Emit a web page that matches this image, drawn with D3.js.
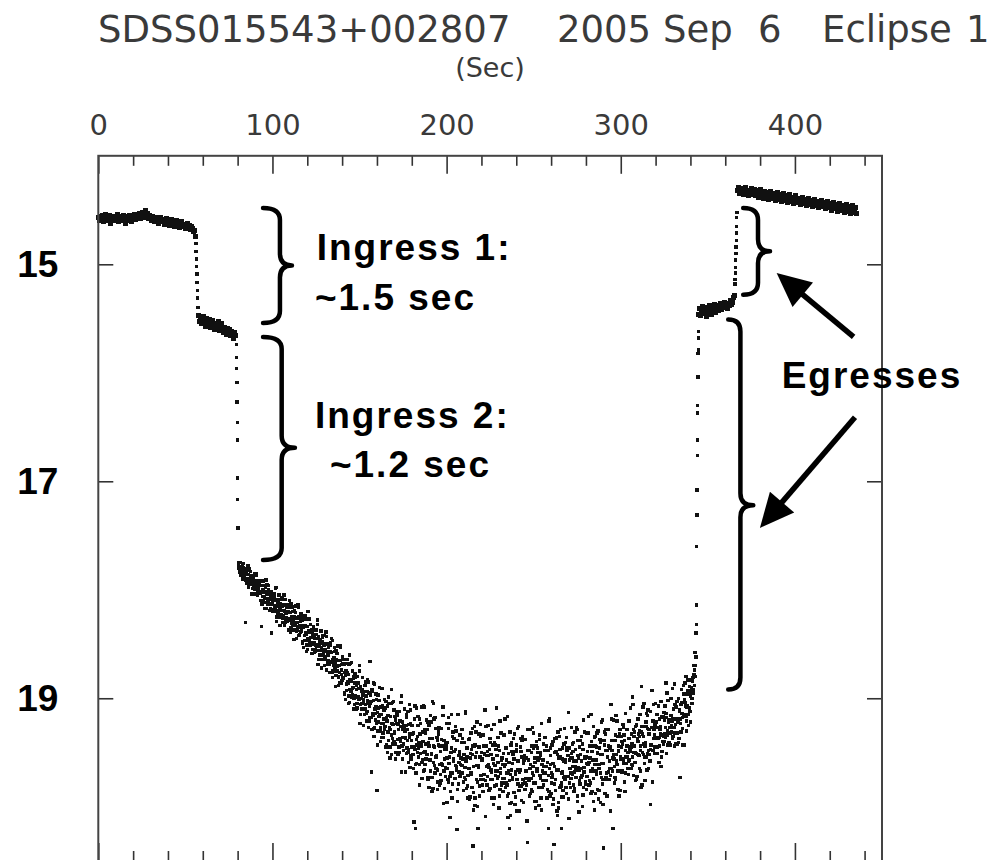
<!DOCTYPE html>
<html>
<head>
<meta charset="utf-8">
<script src="https://cdn.jsdelivr.net/npm/d3@7"></script>
<style>
  body { margin: 0; background: #fff; }
</style>
</head>
<body>
<div id="chart"></div>
<script>
// axis set-up
const xDomain = [0, 450];
const yDomain = [14, 20.5];
const xMajorTicks = [0, 100, 200, 300, 400];
const xMinorTicks = [20, 40, 60, 80, 120, 140, 160, 180, 220, 240, 260, 280, 320, 340, 360, 380, 420, 440];
const yTicks = [15, 17, 19];

// light curve, [sec, mag]
const plateauBefore = [
  [0,14.57],[0.6,14.60],[1.2,14.56],[1.8,14.59],[2.4,14.55],[3.0,14.61],[3.6,14.58],[4.2,14.54],[4.8,14.60],[5.4,14.57],
  [6.0,14.59],[6.6,14.55],[7.2,14.62],[7.8,14.58],[8.4,14.56],[9.0,14.60],[9.6,14.57],[10.2,14.59],[10.8,14.54],[11.4,14.61],
  [12.0,14.58],[12.6,14.56],[13.2,14.60],[13.8,14.57],[14.4,14.55],[15.0,14.59],[15.6,14.62],[16.2,14.56],[16.8,14.58],[17.4,14.60],
  [18.0,14.55],[18.6,14.58],[19.2,14.61],[19.8,14.56],[20.4,14.57],[21.0,14.54],[21.6,14.59],[22.2,14.55],[22.8,14.57],[23.4,14.53],
  [24.0,14.58],[24.6,14.55],[25.2,14.52],[25.8,14.57],[26.4,14.54],[27.0,14.50],[27.6,14.56],[28.2,14.53],[28.8,14.58],[29.4,14.55],
  [30.0,14.57],[30.6,14.60],[31.2,14.56],[31.8,14.59],[32.4,14.61],[33.0,14.57],[33.6,14.60],[34.2,14.58],[34.8,14.62],[35.4,14.59],
  [36.0,14.57],[36.6,14.61],[37.2,14.59],[37.8,14.63],[38.4,14.60],[39.0,14.58],[39.6,14.62],[40.2,14.60],[40.8,14.64],[41.4,14.61],
  [42.0,14.59],[42.6,14.63],[43.2,14.60],[43.8,14.65],[44.4,14.62],[45.0,14.60],[45.6,14.64],[46.2,14.62],[46.8,14.66],[47.4,14.63],
  [48.0,14.61],[48.6,14.65],[49.2,14.63],[49.8,14.67],[50.4,14.64],[51.0,14.62],[51.6,14.66],[52.2,14.64],[52.8,14.68],[53.4,14.65],
  [54.0,14.67],[54.6,14.70],[55.2,14.69],[55.8,14.74]
];
const ingressOne = [
  [56.0,14.81],[56.15,14.88],[56.3,14.95],[56.45,15.02],[56.6,15.09],[56.75,15.17],[56.9,15.24],[57.05,15.31],[57.2,15.40]
];
const plateauMidOne = [
  [57.4,15.47],[58.0,15.53],[58.6,15.49],[59.2,15.55],[59.8,15.51],[60.4,15.48],[61.0,15.54],[61.6,15.57],[62.2,15.50],[62.8,15.53],
  [63.4,15.56],[64.0,15.51],[64.6,15.58],[65.2,15.54],[65.8,15.52],[66.4,15.57],[67.0,15.60],[67.6,15.55],[68.2,15.58],[68.8,15.53],
  [69.4,15.61],[70.0,15.57],[70.6,15.55],[71.2,15.60],[71.8,15.63],[72.4,15.58],[73.0,15.61],[73.6,15.65],[74.2,15.59],[74.8,15.63],
  [75.4,15.60],[76.0,15.66],[76.6,15.62],[77.2,15.64],[77.8,15.68],[78.4,15.63],[79.0,15.66]
];
const ingressTwo = [
  [79.3,15.74],[79.4,15.86],[79.5,15.96],[79.6,16.09],[79.7,16.27],[79.8,16.46],[79.9,16.62],[80.0,16.97],[80.1,17.17],[80.2,17.43]
];
const eclipseFloor = [
  [80.4,17.80],[80.8,17.75],[81.2,17.83],[81.6,17.79],[82.0,17.87],[82.4,17.79],[82.8,17.83],[83.2,17.76],[83.6,17.88],[84.0,17.87],
  [84.4,18.30],[84.8,17.91],[85.2,17.81],[85.6,17.90],[86.0,17.86],[86.4,17.98],[86.8,17.90],[87.2,17.94],[87.6,17.87],[88.0,17.93],
  [88.4,17.99],[88.8,17.91],[89.2,17.95],[89.6,17.85],[90.0,18.00],[90.4,17.95],[90.8,18.04],[91.2,17.93],[91.6,18.00],[92.0,17.95],
  [92.4,17.95],[92.8,18.03],[93.2,18.10],[93.6,18.34],[94.0,17.96],[94.4,18.06],[94.8,18.01],[95.2,18.06],[95.6,18.17],[96.0,17.98],
  [96.4,18.08],[96.8,17.95],[97.2,18.04],[97.6,18.13],[98.0,18.09],[98.4,18.02],[98.8,18.13],[99.2,18.06],[99.6,18.40],[100.0,18.20],
  [100.4,18.10],[100.8,18.20],[101.2,18.07],[101.6,18.16],[102.0,17.98],[102.4,18.19],[102.8,18.15],[103.2,18.22],[103.6,18.12],[104.0,18.14],
  [104.4,18.18],[104.8,18.09],[105.2,18.23],[105.6,18.15],[106.0,18.30],[106.4,18.14],[106.8,18.20],[107.2,18.09],[107.6,18.28],[108.0,18.26],
  [108.4,18.21],[108.8,18.29],[109.2,18.14],[109.6,18.27],[110.0,18.21],[110.4,18.39],[110.8,18.25],[111.2,18.31],[111.6,18.20],[112.0,18.30],
  [112.4,18.37],[112.8,18.25],[113.2,18.30],[113.6,18.15],[114.0,18.37],[114.4,18.30],[114.8,18.42],[115.2,18.25],[115.6,18.35],[116.0,18.29],
  [116.4,18.27],[116.8,18.38],[117.2,18.49],[117.6,18.34],[118.0,18.27],[118.4,18.42],[118.8,18.33],[119.2,18.40],[119.6,18.57],[120.0,18.27],
  [120.4,18.45],[120.8,18.27],[121.2,18.39],[121.6,18.51],[122.0,18.44],[122.4,18.37],[122.8,18.50],[123.2,18.41],[123.6,18.34],[124.0,18.58],
  [124.4,18.45],[124.8,18.57],[125.2,18.41],[125.6,18.52],[126.0,18.28],[126.4,18.56],[126.8,18.52],[127.2,18.60],[127.6,18.47],[128.0,18.49],
  [128.4,18.55],[128.8,18.44],[129.2,18.60],[129.6,18.51],[130.0,18.70],[130.4,18.50],[130.8,18.57],[131.2,18.43],[131.6,18.68],[132.0,18.65],
  [132.4,18.57],[132.8,18.69],[133.2,18.49],[133.6,18.66],[134.0,18.58],[134.4,18.81],[134.8,18.64],[135.2,18.70],[135.6,18.57],[136.0,18.70],
  [136.4,18.79],[136.8,18.64],[137.2,18.71],[137.6,18.52],[138.0,18.80],[138.4,18.70],[138.8,18.86],[139.2,18.65],[139.6,18.78],[140.0,18.69],
  [140.4,18.68],[140.8,18.82],[141.2,18.96],[141.6,18.76],[142.0,18.68],[142.4,18.87],[142.8,18.76],[143.2,18.85],[143.6,19.05],[144.0,18.69],
  [144.4,18.92],[144.8,18.68],[145.2,18.84],[145.6,18.99],[146.0,18.91],[146.4,18.80],[146.8,19.00],[147.2,18.86],[147.6,18.77],[148.0,19.10],
  [148.4,18.92],[148.8,19.09],[149.2,18.86],[149.6,19.01],[150.0,18.70],[150.4,19.06],[150.8,19.00],[151.2,19.10],[151.6,18.93],[152.0,18.97],
  [152.4,19.03],[152.8,18.88],[153.2,19.10],[153.6,18.98],[154.0,19.21],[154.4,18.94],[154.8,19.05],[155.2,18.85],[155.6,19.18],[156.0,18.66],
  [156.4,19.03],[156.8,19.68],[157.2,18.92],[157.6,19.14],[158.0,19.02],[158.4,19.35],[158.8,19.10],[159.2,19.20],[159.6,19.01],[160.0,19.85],
  [160.4,19.30],[160.8,19.09],[161.2,19.17],[161.6,18.90],[162.0,19.27],[162.4,19.15],[162.8,19.36],[163.2,19.07],[163.6,19.23],[164.0,19.11],
  [164.4,19.09],[164.8,19.26],[165.2,19.45],[165.6,19.18],[166.0,19.07],[166.4,19.31],[166.8,19.16],[167.2,19.27],[167.6,19.55],[168.0,19.05],
  [168.4,19.34],[168.8,19.04],[169.2,19.24],[169.6,19.42],[170.0,19.32],[170.4,19.17],[170.8,19.42],[171.2,19.23],[171.6,19.12],[172.0,19.52],
  [172.4,19.29],[172.8,19.50],[173.2,19.21],[173.6,19.40],[174.0,18.98],[174.4,19.44],[174.8,19.36],[175.2,19.48],[175.6,19.27],[176.0,19.30],
  [176.4,19.37],[176.8,19.18],[177.2,19.46],[177.6,19.29],[178.0,19.59],[178.4,19.24],[178.8,19.36],[179.2,19.11],[179.6,19.53],[180.0,19.45],
  [180.4,19.33],[180.8,19.52],[181.2,20.14],[181.6,19.45],[182.0,20.20],[182.4,19.69],[182.8,19.38],[183.2,19.50],[183.6,19.25],[184.0,19.46],
  [184.4,19.61],[184.8,19.33],[185.2,19.44],[185.6,19.08],[186.0,19.57],[186.4,19.40],[186.8,19.67],[187.2,19.29],[187.6,19.49],[188.0,19.32],
  [188.4,19.29],[188.8,19.52],[189.2,19.75],[189.6,19.41],[190.0,19.25],[190.4,19.57],[190.8,19.37],[191.2,19.51],[191.6,19.86],[192.0,19.03],
  [192.4,19.59],[192.8,19.19],[193.2,19.45],[193.6,19.69],[194.0,19.54],[194.4,19.36],[194.8,19.66],[195.2,19.43],[195.6,19.27],[196.0,19.80],
  [196.4,19.49],[196.8,19.76],[197.2,19.38],[197.6,19.62],[198.0,19.08],[198.4,19.67],[198.8,19.56],[199.2,19.72],[199.6,19.44],[200.0,19.47],
  [200.4,19.65],[200.8,19.75],[201.2,19.18],[201.6,19.54],[202.0,20.10],[202.4,19.86],[202.8,19.46],[203.2,19.69],[203.6,19.31],[204.0,19.58],
  [204.4,19.49],[204.8,19.74],[205.2,19.26],[205.6,19.63],[206.0,20.21],[206.4,19.95],[206.8,19.53],[207.2,19.68],[207.6,19.34],[208.0,19.61],
  [208.4,19.41],[208.8,19.62],[209.2,19.37],[209.6,19.85],[210.0,19.52],[210.4,19.73],[210.8,19.14],[211.2,19.58],[211.6,19.46],[212.0,19.81],
  [212.4,19.38],[212.8,19.65],[213.2,19.93],[213.6,19.51],[214.0,19.32],[214.4,19.70],[214.8,19.44],[215.2,20.36],[215.6,20.03],[216.0,19.26],
  [216.4,19.92],[216.8,19.31],[217.2,19.50],[217.6,19.77],[218.0,20.20],[218.4,19.64],[218.8,19.81],[219.2,19.54],[219.6,19.24],[220.0,19.71],
  [220.4,19.57],[220.8,19.86],[221.2,19.44],[221.6,19.70],[222.0,19.11],[222.4,19.76],[222.8,19.63],[223.2,19.80],[223.6,19.49],[224.0,19.53],
  [224.4,19.64],[224.8,19.37],[225.2,19.75],[225.6,19.52],[226.0,19.92],[226.4,19.43],[226.8,19.60],[227.2,19.24],[227.6,19.81],[228.0,19.71],
  [228.4,19.67],[228.8,19.09],[229.2,19.74],[229.6,19.59],[230.0,20.01],[230.4,19.48],[230.8,19.69],[231.2,19.32],[231.6,19.80],[232.0,19.55],
  [232.4,19.86],[232.8,19.51],[233.2,19.63],[233.6,19.19],[234.0,19.78],[234.4,19.57],[234.8,19.90],[235.2,20.10],[235.6,19.67],[236.0,20.20],
  [236.4,19.31],[236.8,20.08],[237.2,19.66],[237.6,19.49],[238.0,19.75],[238.4,19.37],[238.8,19.56],[239.2,19.98],[239.6,19.70],[240.0,19.43],
  [240.4,19.75],[240.8,19.28],[241.2,19.58],[241.6,19.85],[242.0,19.68],[242.4,19.45],[242.8,19.81],[243.2,19.54],[243.6,19.35],[244.0,19.96],
  [244.4,19.57],[244.8,19.53],[245.2,19.84],[245.6,19.67],[246.0,19.80],[246.4,20.33],[246.8,19.74],[247.2,19.48],[247.6,19.90],[248.0,19.61],
  [248.4,19.74],[248.8,19.84],[249.2,19.27],[249.6,19.63],[250.0,19.46],[250.4,19.95],[250.8,19.55],[251.2,19.78],[251.6,19.40],[252.0,19.67],
  [252.4,19.57],[252.8,19.82],[253.2,19.34],[253.6,19.71],[254.0,19.50],[254.4,20.03],[254.8,19.61],[255.2,19.76],[255.6,19.42],[256.0,19.69],
  [256.4,19.48],[256.8,19.69],[257.2,19.44],[257.6,19.92],[258.0,19.59],[258.4,20.20],[258.8,19.21],[259.2,19.65],[259.6,19.53],[260.0,19.88],
  [260.4,19.43],[260.8,19.70],[261.2,19.98],[261.6,20.35],[262.0,19.37],[262.4,19.75],[262.8,19.49],[263.2,19.66],[263.6,20.08],[264.0,19.31],
  [264.4,19.96],[264.8,19.35],[265.2,19.54],[265.6,19.81],[266.0,20.20],[266.4,19.68],[266.8,19.85],[267.2,19.58],[267.6,19.28],[268.0,19.75],
  [268.4,19.59],[268.8,19.88],[269.2,19.46],[269.6,19.72],[270.0,19.13],[270.4,19.78],[270.8,19.65],[271.2,19.82],[271.6,19.51],[272.0,19.55],
  [272.4,19.70],[272.8,19.41],[273.2,19.58],[273.6,19.83],[274.0,19.47],[274.4,19.66],[274.8,19.29],[275.2,19.90],[275.6,19.55],[276.0,20.05],
  [276.4,19.66],[276.8,19.39],[277.2,19.73],[277.6,19.58],[278.0,20.00],[278.4,19.47],[278.8,19.68],[279.2,19.31],[279.6,19.79],[280.0,19.54],
  [280.4,19.84],[280.8,19.49],[281.2,19.61],[281.6,19.17],[282.0,19.76],[282.4,19.55],[282.8,19.88],[283.2,19.40],[283.6,19.65],[284.0,19.44],
  [284.4,19.26],[284.8,20.03],[285.2,19.61],[285.6,19.44],[286.0,19.70],[286.4,19.32],[286.8,19.51],[287.2,19.93],[287.6,19.65],[288.0,19.38],
  [288.4,19.69],[288.8,19.22],[289.2,19.52],[289.6,19.79],[290.0,20.38],[290.4,19.39],[290.8,19.75],[291.2,19.48],[291.6,19.29],[292.0,19.90],
  [292.4,19.48],[292.8,19.44],[293.2,19.75],[293.6,19.58],[294.0,19.71],[294.4,19.06],[294.8,19.65],[295.2,19.39],[295.6,20.20],[296.0,19.52],
  [296.4,19.63],[296.8,19.73],[297.2,19.16],[297.6,19.52],[298.0,19.35],[298.4,19.84],[298.8,19.44],[299.2,19.67],[299.6,19.29],[300.0,19.56],
  [300.4,19.45],[300.8,19.68],[301.2,19.24],[301.6,19.58],[302.0,19.39],[302.4,19.86],[302.8,19.48],[303.2,19.60],[303.6,19.29],[304.0,19.54],
  [304.4,19.70],[304.8,19.37],[305.2,19.49],[305.6,19.09],[306.0,19.61],[306.4,19.42],[306.8,18.99],[307.2,19.29],[307.6,19.50],[308.0,19.31],
  [308.4,19.26],[308.8,19.51],[309.2,19.75],[309.6,19.37],[310.0,19.19],[310.4,19.53],[310.8,19.30],[311.2,19.44],[311.6,19.82],[312.0,18.89],
  [312.4,19.50],[312.8,19.08],[313.2,19.35],[313.6,19.60],[314.0,19.44],[314.4,19.22],[314.8,19.54],[315.2,19.28],[315.6,19.11],[316.0,19.65],
  [316.4,19.33],[316.8,19.58],[317.2,19.98],[317.6,19.43],[318.0,18.93],[318.4,19.48],[318.8,19.37],[319.2,19.51],[319.6,19.24],[320.0,19.27],
  [320.4,19.37],[320.8,19.15],[321.2,19.45],[321.6,19.27],[322.0,19.59],[322.4,19.19],[322.8,19.33],[323.2,19.03],[323.6,19.49],[324.0,19.40],
  [324.4,19.35],[324.8,19.13],[325.2,19.40],[325.6,19.27],[326.0,18.86],[326.4,19.18],[326.8,19.34],[327.2,19.02],[327.6,19.41],[328.0,19.20],
  [328.4,19.43],[328.8,19.16],[329.2,19.25],[329.6,18.91],[330.0,19.35],[330.4,19.19],[330.8,19.44],[331.2,19.06],[331.6,19.24],[332.0,19.08],
  [332.4,19.03],[332.8,19.22],[333.2,19.41],[333.6,19.11],[334.0,19.73],[334.4,19.23],[334.8,19.04],[335.2,19.14],[335.6,19.43],[336.0,18.88],
  [336.4,19.17],[336.8,18.86],[337.2,19.04],[337.6,19.21],[338.0,19.08],[338.4,18.93],[338.8,19.15],[339.2,18.96],[339.6,18.83],[340.0,19.22],
  [340.4,18.93],[340.8,19.05],[341.2,18.84],[341.6,18.95],[342.0,18.78],[342.4,18.88],[342.8,18.70],[343.2,18.62]
];
// the in-between exposures of the eclipse floor
const eclipseFloorB = [
  [80.6,17.77],[81.0,17.84],[81.4,17.81],[81.8,17.75],[82.2,17.84],[82.6,17.81],[83.0,17.90],[83.4,17.80],[83.8,17.85],[84.2,17.82],
  [84.6,17.90],[85.0,17.85],[85.4,17.82],[85.8,17.90],[86.2,17.95],[86.6,17.81],[87.0,17.91],[87.4,17.90],[87.8,17.95],[88.2,17.92],
  [88.6,17.87],[89.0,17.97],[89.4,17.94],[89.8,18.00],[90.2,17.92],[90.6,17.98],[91.0,17.87],[91.4,18.05],[91.8,17.98],[92.2,18.03],
  [92.6,18.02],[93.0,17.96],[93.4,18.10],[93.8,18.02],[94.2,18.00],[94.6,18.10],[95.0,17.96],[95.4,18.07],[95.8,18.02],[96.2,18.17],
  [96.6,18.03],[97.0,18.10],[97.4,17.96],[97.8,18.12],[98.2,18.08],[98.6,18.04],[99.0,18.17],[99.4,18.02],[99.8,18.13],[100.2,18.08],
  [100.6,18.18],[101.0,18.04],[101.4,18.15],[101.8,18.10],[102.2,18.29],[102.6,18.09],[103.0,18.12],[103.4,18.19],[103.8,18.05],[104.2,18.17],
  [104.6,18.13],[105.0,18.25],[105.4,18.19],[105.8,18.07],[106.2,18.24],[106.6,18.19],[107.0,18.33],[107.4,18.14],[107.8,18.22],[108.2,18.16],
  [108.6,18.29],[109.0,18.20],[109.4,18.16],[109.8,18.28],[110.2,18.35],[110.6,18.13],[111.0,18.28],[111.4,18.25],[111.8,18.33],[112.2,18.28],
  [112.6,18.19],[113.0,18.33],[113.4,18.30],[113.8,18.38],[114.2,18.26],[114.6,18.34],[115.0,18.16],[115.4,18.42],[115.8,18.33],[116.2,18.39],
  [116.6,18.37],[117.0,18.28],[117.4,18.48],[117.8,18.35],[118.2,18.33],[118.6,18.47],[119.0,18.27],[119.4,18.41],[119.8,18.34],[120.2,18.55],
  [120.6,18.38],[121.0,18.47],[121.4,18.27],[121.8,18.49],[122.2,18.44],[122.6,18.38],[123.0,18.55],[123.4,18.35],[123.8,18.49],[124.2,18.42],
  [124.6,18.55],[125.0,18.37],[125.4,18.51],[125.8,18.45],[126.2,18.69],[126.6,18.43],[127.0,18.48],[127.4,18.56],[127.8,18.38],[128.2,18.53],
  [128.6,18.48],[129.0,18.64],[129.4,18.57],[129.8,18.42],[130.2,18.62],[130.6,18.55],[131.0,18.74],[131.4,18.50],[131.8,18.60],[132.2,18.53],
  [132.6,18.68],[133.0,18.57],[133.4,18.51],[133.8,18.67],[134.2,18.76],[134.6,18.47],[135.0,18.67],[135.4,18.63],[135.8,18.73],[136.2,18.67],
  [136.6,18.56],[137.0,18.75],[137.4,18.70],[137.8,18.81],[138.2,18.65],[138.6,18.76],[139.0,18.53],[139.4,18.86],[139.8,18.74],[140.2,18.83],
  [140.6,18.81],[141.0,18.69],[141.4,18.95],[141.8,18.79],[142.2,18.75],[142.6,18.93],[143.0,18.68],[143.4,18.86],[143.8,18.78],[144.2,19.04],
  [144.6,18.83],[145.0,18.94],[145.4,18.67],[145.8,18.97],[146.2,18.90],[146.6,18.82],[147.0,19.06],[147.4,18.78],[147.8,18.98],[148.2,18.88],
  [148.6,19.05],[149.0,18.80],[149.4,19.00],[149.8,18.91],[150.2,19.23],[150.6,18.89],[151.0,18.94],[151.4,19.05],[151.8,18.81],[152.2,19.01],
  [152.6,18.94],[153.0,19.15],[153.4,19.06],[153.8,18.85],[154.2,19.12],[154.6,19.02],[155.0,19.27],[155.4,18.95],[155.8,19.07],[156.2,18.97],
  [156.6,19.18],[157.0,19.03],[157.4,18.94],[157.8,19.16],[158.2,19.28],[158.6,18.87],[159.0,19.14],[159.4,19.08],[159.8,19.23],[160.2,19.13],
  [160.6,18.97],[161.0,19.22],[161.4,19.16],[161.8,19.30],[162.2,19.08],[162.6,19.23],[163.0,18.91],[163.4,19.36],[163.8,19.19],[164.2,19.29],
  [164.6,19.26],[165.0,19.09],[165.4,19.43],[165.8,19.21],[166.2,19.16],[166.6,19.39],[167.0,19.05],[167.4,19.29],[167.8,19.17],[168.2,19.52],
  [168.6,19.23],[169.0,19.37],[169.4,19.03],[169.8,19.40],[170.2,19.31],[170.6,19.20],[171.0,19.50],[171.4,19.14],[171.8,19.38],[172.2,19.24],
  [172.6,19.45],[173.0,19.12],[173.4,19.38],[173.8,19.26],[174.2,19.68],[174.6,19.22],[175.0,19.29],[175.4,19.42],[175.8,19.10],[176.2,19.36],
  [176.6,19.25],[177.0,19.51],[177.4,19.39],[177.8,19.12],[178.2,19.47],[178.6,19.33],[179.0,19.64],[179.4,19.23],[179.8,19.39],[180.2,19.25],
  [180.6,19.52],[181.0,19.32],[181.4,19.19],[181.8,19.47],[182.2,19.61],[182.6,19.09],[183.0,19.43],[183.4,19.35],[183.8,19.54],[184.2,19.41],
  [184.6,19.19],[185.0,19.51],[185.4,19.42],[185.8,19.59],[186.2,19.31],[186.6,19.50],[187.0,19.08],[187.4,19.66],[187.8,19.42],[188.2,19.56],
  [188.6,19.52],[189.0,19.29],[189.4,19.73],[189.8,19.44],[190.2,19.37],[190.6,19.67],[191.0,19.22],[191.4,19.52],[191.8,19.37],[192.2,19.83],
  [192.6,19.44],[193.0,19.62],[193.4,19.18],[193.8,19.65],[194.2,19.53],[194.6,19.39],[195.0,19.77],[195.4,19.30],[195.8,19.61],[196.2,19.44],
  [196.6,19.70],[197.0,19.28],[197.4,19.61],[197.8,19.44],[198.2,19.97],[198.6,19.39],[199.0,19.47],[199.4,19.64],[199.8,19.23],[200.2,19.55],
  [200.6,19.41],[201.0,19.77],[201.4,19.60],[201.8,19.23],[202.2,19.69],[202.6,19.50],[203.0,19.92],[203.4,19.35],[203.8,19.56],[204.2,19.37],
  [204.6,19.74],[205.0,19.47],[205.4,19.30],[205.8,19.66],[206.2,19.84],[206.6,19.15],[207.0,19.59],[207.4,19.49],[207.8,19.72],[208.2,19.55],
  [208.6,19.29],[209.0,19.69],[209.4,19.56],[209.8,19.77],[210.2,19.41],[210.6,19.64],[211.0,19.12],[211.4,19.83],[211.8,19.54],[212.2,19.71],
  [212.6,19.65],[213.0,19.38],[213.4,19.91],[213.8,19.55],[214.2,19.47],[214.6,19.82],[215.0,19.28],[215.4,19.63],[215.8,19.44],[216.2,19.99],
  [216.6,19.54],[217.0,19.75],[217.4,19.22],[217.8,19.77],[218.2,19.62],[218.6,19.45],[219.0,19.90],[219.4,19.35],[219.8,19.71],[220.2,19.50],
  [220.6,19.80],[221.0,19.34],[221.4,19.70],[221.8,19.51],[222.2,20.09],[222.6,19.44],[223.0,19.53],[223.4,19.72],[223.8,19.25],[224.2,19.61],
  [224.6,19.47],[225.0,19.83],[225.4,19.66],[225.8,19.29],[226.2,19.75],[226.6,19.56],[227.0,19.98],[227.4,19.41],[227.8,19.62],[228.2,19.43],
  [228.6,19.80],[229.0,19.53],[229.4,19.36],[229.8,19.72],[230.2,19.90],[230.6,19.21],[231.0,19.65],[231.4,19.55],[231.8,19.78],[232.2,19.61],
  [232.6,19.34],[233.0,19.74],[233.4,19.61],[233.8,19.82],[234.2,19.46],[234.6,19.69],[235.0,19.17],[235.4,19.88],[235.8,19.59],[236.2,19.76],
  [236.6,19.70],[237.0,19.43],[237.4,19.96],[237.8,19.60],[238.2,19.52],[238.6,19.87],[239.0,19.33],[239.4,19.68],[239.8,19.49],[240.2,20.04],
  [240.6,19.58],[241.0,19.79],[241.4,19.26],[241.8,19.81],[242.2,19.66],[242.6,19.49],[243.0,19.94],[243.4,19.39],[243.8,19.75],[244.2,19.54],
  [244.6,19.84],[245.0,19.38],[245.4,19.74],[245.8,19.55],[246.2,20.13],[246.6,19.48],[247.0,19.57],[247.4,19.76],[247.8,19.29],[248.2,19.65],
  [248.6,19.50],[249.0,19.86],[249.4,19.69],[249.8,19.32],[250.2,19.78],[250.6,19.59],[251.0,20.01],[251.4,19.44],[251.8,19.65],[252.2,19.46],
  [252.6,19.82],[253.0,19.55],[253.4,19.38],[253.8,19.74],[254.2,19.92],[254.6,19.23],[255.0,19.67],[255.4,19.57],[255.8,19.80],[256.2,19.63],
  [256.6,19.36],[257.0,19.76],[257.4,19.63],[257.8,19.84],[258.2,19.48],[258.6,19.71],[259.0,19.19],[259.4,19.90],[259.8,19.61],[260.2,19.78],
  [260.6,19.73],[261.0,19.40],[261.4,19.93],[261.8,19.63],[262.2,19.50],[262.6,19.85],[263.0,19.36],[263.4,19.66],[263.8,19.52],[264.2,20.01],
  [264.6,19.55],[265.0,19.82],[265.4,19.29],[265.8,19.78],[266.2,19.69],[266.6,19.46],[267.0,19.91],[267.4,19.42],[267.8,19.72],[268.2,19.57],
  [268.6,19.82],[269.0,19.36],[269.4,19.72],[269.8,19.53],[270.2,20.11],[270.6,19.46],[271.0,19.55],[271.4,19.74],[271.8,19.27],[272.2,19.63],
  [272.6,19.49],[273.0,19.80],[273.4,19.68],[273.8,19.31],[274.2,19.73],[274.6,19.58],[275.0,19.95],[275.4,19.39],[275.8,19.64],[276.2,19.45],
  [276.6,19.79],[277.0,19.52],[277.4,19.35],[277.8,19.71],[278.2,19.89],[278.6,19.20],[279.0,19.64],[279.4,19.54],[279.8,19.77],[280.2,19.60],
  [280.6,19.32],[281.0,19.72],[281.4,19.59],[281.8,19.80],[282.2,19.44],[282.6,19.67],[283.0,19.15],[283.4,19.86],[283.8,19.57],[284.2,19.74],
  [284.6,19.67],[285.0,19.36],[285.4,19.88],[285.8,19.57],[286.2,19.45],[286.6,19.84],[287.0,19.30],[287.4,19.61],[287.8,19.46],[288.2,19.96],
  [288.6,19.52],[289.0,19.73],[289.4,19.20],[289.8,19.75],[290.2,19.60],[290.6,19.43],[291.0,19.88],[291.4,19.33],[291.8,19.69],[292.2,19.48],
  [292.6,19.75],[293.0,19.29],[293.4,19.65],[293.8,19.46],[294.2,20.04],[294.6,19.39],[295.0,19.48],[295.4,19.67],[295.8,19.20],[296.2,19.56],
  [296.6,19.39],[297.0,19.75],[297.4,19.58],[297.8,19.21],[298.2,19.67],[298.6,19.48],[299.0,19.90],[299.4,19.33],[299.8,19.54],[300.2,19.35],
  [300.6,19.67],[301.0,19.42],[301.4,19.27],[301.8,19.60],[302.2,19.77],[302.6,19.14],[303.0,19.54],[303.4,19.44],[303.8,19.65],[304.2,19.50],
  [304.6,19.21],[305.0,19.57],[305.4,19.46],[305.8,19.65],[306.2,19.33],[306.6,19.54],[307.0,19.06],[307.4,19.71],[307.8,19.44],[308.2,19.59],
  [308.6,19.50],[309.0,19.25],[309.4,19.72],[309.8,19.40],[310.2,19.33],[310.6,19.65],[311.0,19.15],[311.4,19.48],[311.8,19.31],[312.2,19.80],
  [312.6,19.33],[313.0,19.52],[313.4,19.05],[313.8,19.54],[314.2,19.41],[314.6,19.26],[315.0,19.66],[315.4,19.16],[315.8,19.48],[316.2,19.29],
  [316.6,19.52],[317.0,19.12],[317.4,19.43],[317.8,19.27],[318.2,19.77],[318.6,19.21],[319.0,19.29],[319.4,19.45],[319.8,19.05],[320.2,19.36],
  [320.6,19.22],[321.0,19.51],[321.4,19.37],[321.8,19.07],[322.2,19.44],[322.6,19.29],[323.0,19.63],[323.4,19.17],[323.8,19.34],[324.2,19.18],
  [324.6,19.42],[325.0,19.20],[325.4,19.07],[325.8,19.36],[326.2,19.51],[326.6,18.95],[327.0,19.30],[327.4,19.22],[327.8,19.41],[328.2,19.27],
  [328.6,19.00],[329.0,19.31],[329.4,19.21],[329.8,19.37],[330.2,19.10],[330.6,19.27],[331.0,18.87],[331.4,19.42],[331.8,19.19],[332.2,19.32],
  [332.6,19.19],[333.0,19.00],[333.4,19.37],[333.8,19.12],[334.2,19.06],[334.6,19.31],[335.0,18.92],[335.4,19.18],[335.8,19.04],[336.2,19.43],
  [336.6,19.01],[337.0,19.15],[337.4,18.80],[337.8,19.17],[338.2,19.07],[338.6,18.96],[339.0,19.25],[339.4,18.89],[339.8,19.12],[340.2,18.98],
  [340.6,18.90],[341.0,19.00],[341.4,18.81],[341.8,18.92],[342.2,18.74],[342.6,18.80]
];
// a third pass of floor readings, the looser ones at the edges of the band
const eclipseFloorC = [
  [85.1,17.94],[85.9,17.78],[86.7,17.95],[87.5,17.83],[88.3,18.04],[89.1,17.88],[89.9,18.04],[90.7,17.85],[91.5,18.03],[92.3,17.92],
  [93.1,17.92],[93.9,18.13],[94.7,17.92],[95.5,18.12],[96.3,17.91],[97.1,18.13],[97.9,18.00],[98.7,18.19],[99.5,18.03],[100.3,18.19],
  [101.1,18.15],[101.9,17.99],[102.7,18.25],[103.5,18.11],[104.3,18.33],[105.1,18.08],[105.9,18.26],[106.7,18.05],[107.5,18.30],[108.3,18.21],
  [109.1,18.37],[109.9,18.10],[110.7,18.36],[111.5,18.16],[112.3,18.46],[113.1,18.21],[113.9,18.45],[114.7,18.14],[115.5,18.41],[116.3,18.22],
  [117.1,18.24],[117.9,18.53],[118.7,18.24],[119.5,18.51],[120.3,18.20],[121.1,18.50],[121.9,18.32],[122.7,18.59],[123.5,18.36],[124.3,18.58],
  [125.1,18.51],[125.9,18.32],[126.7,18.64],[127.5,18.46],[128.3,18.72],[129.1,18.42],[129.9,18.64],[130.7,18.39],[131.5,18.69],[132.3,18.57],
  [133.1,18.76],[133.9,18.45],[134.7,18.75],[135.5,18.53],[136.3,18.89],[137.1,18.59],[137.9,18.88],[138.7,18.52],[139.5,18.84],[140.3,18.62],
  [141.1,18.64],[141.9,19.01],[142.7,18.64],[143.5,18.98],[144.3,18.60],[145.1,18.98],[145.9,18.75],[146.7,19.10],[147.5,18.81],[148.3,19.09],
  [149.1,18.99],[149.9,18.75],[150.7,19.15],[151.5,18.92],[152.3,19.25],[153.1,18.88],[153.9,19.14],[154.7,18.83],[155.5,19.21],[156.3,19.05],
  [157.1,19.29],[157.9,18.86],[158.7,19.27],[159.5,18.96],[160.3,19.43],[161.1,19.02],[161.9,19.40],[162.7,18.91],[163.5,19.32],[164.3,19.01],
  [165.1,19.03],[165.9,19.50],[166.7,18.99],[167.5,19.45],[168.3,18.92],[169.1,19.42],[169.9,19.11],[170.7,19.56],[171.5,19.16],[172.3,19.51],
  [173.1,19.37],[173.9,19.04],[174.7,19.56],[175.5,19.25],[176.3,19.68],[177.1,19.15],[177.9,19.50],[178.7,19.06],[179.5,19.56],[180.3,19.33],
  [181.1,19.65],[181.9,19.07],[182.7,19.60],[183.5,19.17],[184.3,19.80],[185.1,19.23],[185.9,19.74],[186.7,19.07],[187.5,19.61],[188.3,19.20],
  [189.1,19.22],[189.9,19.82],[190.7,19.16],[191.5,19.73],[192.3,19.05],[193.1,19.69],[193.9,19.28],[194.7,19.84],[195.5,19.33],[196.3,19.78],
  [197.1,19.60],[197.9,19.16],[198.7,19.83],[199.5,19.41],[200.3,19.96],[201.1,19.28],[201.9,19.72],[202.7,19.15],[203.5,19.79],[204.3,19.49],
  [205.1,19.62],[205.9,19.39],[206.7,19.79],[207.5,19.52],[208.3,19.69],[209.1,19.29],[209.9,19.56],[210.7,19.75],[211.5,19.46],[212.3,19.92],
  [213.1,19.37],[213.9,19.69],[214.7,19.52],[215.5,19.87],[216.3,19.43],[217.1,19.62],[217.9,20.00],[218.7,19.33],[219.5,19.75],[220.3,19.56],
  [221.1,19.75],[221.9,19.52],[222.7,19.26],[223.5,19.62],[224.3,19.85],[225.1,19.41],[225.9,19.68],[226.7,19.56],[227.5,19.92],[228.3,19.47],
  [229.1,19.67],[229.9,19.44],[230.7,19.84],[231.5,19.57],[232.3,19.74],[233.1,19.34],[233.9,19.61],[234.7,19.80],[235.5,19.51],[236.3,19.97],
  [237.1,19.41],[237.9,19.73],[238.7,19.56],[239.5,19.91],[240.3,19.47],[241.1,19.66],[241.9,20.04],[242.7,19.37],[243.5,19.79],[244.3,19.60],
  [245.1,19.78],[245.9,19.55],[246.7,19.29],[247.5,19.65],[248.3,19.88],[249.1,19.44],[249.9,19.71],[250.7,19.59],[251.5,19.95],[252.3,19.50],
  [253.1,19.99],[253.9,19.53],[254.7,19.82],[255.5,19.63],[256.3,19.36],[257.1,19.76],[257.9,19.59],[258.7,19.86],[259.5,19.46],[260.3,19.69],
  [261.1,19.60],[261.9,19.79],[262.7,19.37],[263.5,20.04],[264.3,19.66],[265.1,19.47],[265.9,19.91],[266.7,19.56],[267.5,19.73],[268.3,19.41],
  [269.1,19.48],[269.9,19.93],[270.7,19.57],[271.5,19.69],[272.3,19.42],[273.1,19.86],[273.9,19.63],[274.7,19.27],[275.5,19.53],[276.3,19.76],
  [277.1,19.65],[277.9,19.42],[278.7,19.82],[279.5,19.55],[280.3,19.72],[281.1,19.32],[281.9,19.59],[282.7,19.78],[283.5,19.49],[284.3,19.95],
  [285.1,19.35],[285.9,19.67],[286.7,19.50],[287.5,19.85],[288.3,19.41],[289.1,19.60],[289.9,19.98],[290.7,19.31],[291.5,19.73],[292.3,19.54],
  [293.1,19.68],[293.9,19.45],[294.7,19.19],[295.5,19.55],[296.3,19.78],[297.1,19.34],[297.9,19.61],[298.7,19.49],[299.5,19.85],[300.3,19.40],
  [301.1,19.56],[301.9,19.34],[302.7,19.69],[303.5,19.44],[304.3,19.58],[305.1,19.21],[305.9,19.45],[306.7,19.62],[307.5,19.35],[308.3,19.76],
  [309.1,19.24],[309.9,19.52],[310.7,19.35],[311.5,19.67],[312.3,19.26],[313.1,19.42],[313.9,19.76],[314.7,19.14],[315.5,19.51],[316.3,19.33],
  [317.1,19.47],[317.9,19.27],[318.7,19.06],[319.5,19.34],[320.3,19.51],[321.1,19.15],[321.9,19.36],[322.7,19.26],[323.5,19.54],[324.3,19.17],
  [325.1,19.33],[325.9,19.14],[326.7,19.43],[327.5,19.21],[328.3,19.32],[329.1,19.00],[329.9,19.19],[330.7,19.32],[331.5,19.08],[332.3,19.42],
  [333.1,19.00],[333.9,19.19],[334.7,19.06],[335.5,19.28],[336.3,18.96],[337.1,19.07],[337.9,19.30],[338.7,18.83],[339.5,19.09],[340.3,18.95],
  [341.1,18.82],[341.9,18.70],[342.7,18.58]
];
const egressOne = [
  [343.3,18.40],[343.4,18.32],[343.5,18.14],[343.6,17.60],[343.7,17.31],[343.8,17.08],[343.9,16.76],[344.0,16.62],
  [344.1,16.37],[344.2,16.30],[344.3,16.04],[344.4,15.82],[344.5,15.79],[344.6,15.68],[344.7,15.62]
];
const plateauMidTwo = [
  [344.8,15.46],[345.4,15.41],[346.0,15.47],[346.6,15.43],[347.2,15.39],[347.8,15.45],[348.4,15.42],[349.0,15.48],[349.6,15.40],[350.2,15.44],
  [350.8,15.38],[351.4,15.43],[352.0,15.46],[352.6,15.40],[353.2,15.42],[353.8,15.37],[354.4,15.44],[355.0,15.41],[355.6,15.38],[356.2,15.43],
  [356.8,15.39],[357.4,15.36],[358.0,15.42],[358.6,15.38],[359.2,15.40],[359.8,15.35],[360.4,15.39],[361.0,15.41],[361.6,15.36],[362.2,15.38],
  [362.8,15.33],[363.4,15.37],[364.0,15.35],[364.6,15.31],[365.2,15.29]
];
const egressTwo = [
  [365.6,15.18],[365.7,15.14],[365.8,15.08],[365.9,15.03],[366.0,14.96],[366.1,14.90],[366.2,14.84],[366.3,14.78],
  [366.4,14.71],[366.5,14.65],[366.6,14.57],[366.7,14.52]
];
const plateauAfter = [
  [367.0,14.32],[367.6,14.29],[368.2,14.35],[368.8,14.31],[369.4,14.34],[370.0,14.30],[370.6,14.36],[371.2,14.33],[371.8,14.29],[372.4,14.35],
  [373.0,14.32],[373.6,14.37],[374.2,14.33],[374.8,14.30],[375.4,14.36],[376.0,14.34],[376.6,14.31],[377.2,14.37],[377.8,14.35],[378.4,14.32],
  [379.0,14.38],[379.6,14.34],[380.2,14.31],[380.8,14.37],[381.4,14.35],[382.0,14.39],[382.6,14.33],[383.2,14.36],[383.8,14.38],[384.4,14.34],
  [385.0,14.40],[385.6,14.36],[386.2,14.33],[386.8,14.39],[387.4,14.37],[388.0,14.35],[388.6,14.41],[389.2,14.37],[389.8,14.34],[390.4,14.40],
  [391.0,14.38],[391.6,14.36],[392.2,14.42],[392.8,14.38],[393.4,14.35],[394.0,14.41],[394.6,14.39],[395.2,14.37],[395.8,14.43],[396.4,14.39],
  [397.0,14.36],[397.6,14.42],[398.2,14.40],[398.8,14.38],[399.4,14.44],[400.0,14.40],[400.6,14.37],[401.2,14.43],[401.8,14.41],[402.4,14.39],
  [403.0,14.45],[403.6,14.41],[404.2,14.38],[404.8,14.44],[405.4,14.42],[406.0,14.40],[406.6,14.46],[407.2,14.42],[407.8,14.39],[408.4,14.45],
  [409.0,14.43],[409.6,14.41],[410.2,14.47],[410.8,14.43],[411.4,14.40],[412.0,14.46],[412.6,14.44],[413.2,14.42],[413.8,14.48],[414.4,14.44],
  [415.0,14.41],[415.6,14.47],[416.2,14.45],[416.8,14.43],[417.4,14.49],[418.0,14.45],[418.6,14.42],[419.2,14.48],[419.8,14.46],[420.4,14.44],
  [421.0,14.50],[421.6,14.46],[422.2,14.43],[422.8,14.49],[423.4,14.47],[424.0,14.45],[424.6,14.51],[425.2,14.47],[425.8,14.44],[426.4,14.50],
  [427.0,14.48],[427.6,14.46],[428.2,14.52],[428.8,14.48],[429.4,14.45],[430.0,14.51],[430.6,14.49],[431.2,14.47],[431.8,14.53],[432.4,14.49],
  [433.0,14.46],[433.6,14.52],[434.2,14.50],[434.8,14.48],[435.4,14.53]
];

// annotations in data units: [x0, xMid, xTip, yTop, yTip, yBottom]
const braces = [
  [94.6, 104.3, 111.2, 14.48, 15.01, 15.54],
  [94.6, 105.3, 112.9, 15.67, 16.69, 17.725],
  [370.3, 378.8, 385.7, 14.48, 14.88, 15.28],
  [361.7, 368.7, 376.1, 15.51, 17.22, 18.92]
];
// arrows: [tailSec, tailMag, tipSec, tipMag]
const arrows = [
  [433.7, 15.67, 389.5, 15.08],
  [434.5, 16.41, 379.9, 17.43]
];
const notes = [
  { text: "Ingress 1:", sec: 125.4, mag: 14.96 },
  { text: "~1.5 sec", sec: 124.4, mag: 15.42 },
  { text: "Ingress 2:", sec: 124.4, mag: 16.51 },
  { text: "~1.2 sec", sec: 133.0, mag: 16.96 },
  { text: "Egresses", sec: 392.4, mag: 16.14 }
];

const width = 991;
const height = 860;
const plotLeft = 98.3, plotRight = 882, plotTop = 155.8, plotBottom = 861;

const x = d3.scaleLinear().domain(xDomain).range([plotLeft, plotRight]);
const y = d3.scaleLinear().domain(yDomain).range([plotTop, plotBottom]);

const svg = d3.select("#chart")
    .append("svg")
    .attr("width", width)
    .attr("height", height);

// Title
const title = svg.append("text")
    .attr("y", 41.7)
    .style("font-family", "DejaVu Sans")
    .style("font-size", "37px")
    .attr("fill", "#3a3a3a");
title.append("tspan").attr("x", 98).text("SDSS015543+002807");
title.append("tspan").attr("x", 557).text("2005 Sep");
title.append("tspan").attr("x", 758).text("6");
title.append("tspan").attr("x", 822).text("Eclipse");
title.append("tspan").attr("x", 966).text("1");

svg.append("text")
    .attr("x", 490)
    .attr("y", 77)
    .attr("text-anchor", "middle")
    .style("font-family", "DejaVu Sans")
    .style("font-size", "27px")
    .attr("fill", "#3a3a3a")
    .text("(Sec)");

// Points: bright plateaus are drawn a touch heavier, as in the original
function drawPoints(data, size) {
    svg.append("g")
        .attr("shape-rendering", "crispEdges")
        .selectAll("rect")
        .data(data)
        .enter().append("rect")
        .attr("x", d => x(d[0]) - size / 2)
        .attr("y", d => y(d[1]) - size / 2)
        .attr("width", size)
        .attr("height", size)
        .attr("fill", "#111");
}
drawPoints([].concat(plateauBefore, plateauMidOne, plateauMidTwo, plateauAfter), 5);
drawPoints([].concat(ingressOne, ingressTwo, egressOne, egressTwo), 3.4);
drawPoints([].concat(eclipseFloor, eclipseFloorB, eclipseFloorC), 3.4);

// Axes
function styleAxis(g) {
    g.select(".domain").remove();
    g.selectAll(".tick line").attr("stroke", "#333").attr("stroke-width", 1.6);
}

svg.append("g")
    .attr("transform", "translate(0," + plotTop + ")")
    .call(d3.axisTop(x).tickValues(xMinorTicks).tickSizeInner(-10).tickSizeOuter(0).tickFormat(""))
    .call(styleAxis);

const topMajor = svg.append("g")
    .attr("transform", "translate(0," + plotTop + ")")
    .call(d3.axisTop(x).tickValues(xMajorTicks).tickSizeInner(-18).tickSizeOuter(0).tickPadding(21))
    .call(styleAxis);
topMajor.selectAll("text")
    .style("font-family", "DejaVu Sans")
    .style("font-size", "29px")
    .attr("fill", "#3a3a3a");

svg.append("g")
    .attr("transform", "translate(0," + plotBottom + ")")
    .call(d3.axisBottom(x).tickValues(xMinorTicks).tickSizeInner(-10).tickSizeOuter(0).tickFormat(""))
    .call(styleAxis);
svg.append("g")
    .attr("transform", "translate(0," + plotBottom + ")")
    .call(d3.axisBottom(x).tickValues(xMajorTicks).tickSizeInner(-18).tickSizeOuter(0).tickFormat(""))
    .call(styleAxis);

const leftAxis = svg.append("g")
    .attr("transform", "translate(" + plotLeft + ",0)")
    .call(d3.axisLeft(y).tickValues(yTicks).tickSizeInner(-15).tickSizeOuter(0).tickPadding(40)
        .tickFormat(d3.format("d")))
    .call(styleAxis);
leftAxis.selectAll("text")
    .style("font-family", "Liberation Sans, Arial, sans-serif")
    .style("font-weight", "bold")
    .style("font-size", "37px")
    .attr("fill", "#000");

svg.append("g")
    .attr("transform", "translate(" + plotRight + ",0)")
    .call(d3.axisRight(y).tickValues(yTicks).tickSizeInner(-15).tickSizeOuter(0).tickFormat(""))
    .call(styleAxis);

// Frame
svg.append("rect")
    .attr("x", plotLeft)
    .attr("y", plotTop)
    .attr("width", plotRight - plotLeft)
    .attr("height", plotBottom - plotTop)
    .attr("fill", "none")
    .attr("stroke", "#444")
    .attr("stroke-width", 2);

// Braces
function bracePath(b) {
    const x0 = x(b[0]), xm = x(b[1]), xt = x(b[2]);
    const y0 = y(b[3]), ym = y(b[4]), y1 = y(b[5]);
    const r = 12;
    return "M" + x0 + "," + y0 +
        " Q" + xm + "," + y0 + " " + xm + "," + (y0 + r) +
        " L" + xm + "," + (ym - r) +
        " Q" + xm + "," + ym + " " + xt + "," + ym +
        " Q" + xm + "," + ym + " " + xm + "," + (ym + r) +
        " L" + xm + "," + (y1 - r) +
        " Q" + xm + "," + y1 + " " + x0 + "," + y1;
}

svg.append("g")
    .selectAll("path")
    .data(braces)
    .enter().append("path")
    .attr("d", bracePath)
    .attr("fill", "none")
    .attr("stroke", "#000")
    .attr("stroke-width", 4.5)
    .attr("stroke-linecap", "round")
    .attr("stroke-linejoin", "round");

// Arrows
const arrowG = svg.append("g");
arrows.forEach(function(a) {
    const x1 = x(a[0]), y1 = y(a[1]), x2 = x(a[2]), y2 = y(a[3]);
    const len = Math.hypot(x2 - x1, y2 - y1);
    const ux = (x2 - x1) / len, uy = (y2 - y1) / len;
    const headLen = 34, headHalf = 16;
    const bx = x2 - ux * headLen, by = y2 - uy * headLen;
    arrowG.append("line")
        .attr("x1", x1).attr("y1", y1)
        .attr("x2", bx + ux * 2).attr("y2", by + uy * 2)
        .attr("stroke", "#000")
        .attr("stroke-width", 5.5);
    arrowG.append("path")
        .attr("d", "M" + x2 + "," + y2 +
            " L" + (bx - uy * headHalf) + "," + (by + ux * headHalf) +
            " L" + (bx + uy * headHalf) + "," + (by - ux * headHalf) + " Z")
        .attr("fill", "#000");
});

// Labels
svg.append("g")
    .selectAll("text")
    .data(notes)
    .enter().append("text")
    .attr("x", d => x(d.sec))
    .attr("y", d => y(d.mag))
    .style("font-family", "Liberation Sans, Arial, sans-serif")
    .style("font-weight", "bold")
    .style("font-size", "37px")
    .style("letter-spacing", "2px")
    .attr("fill", "#000")
    .text(d => d.text);
</script>
</body>
</html>
